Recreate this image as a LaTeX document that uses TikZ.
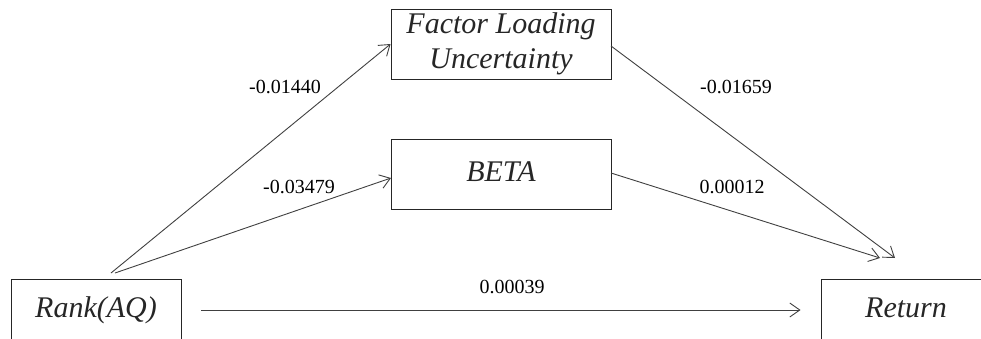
\documentclass[tikz,border=0pt]{standalone}
\usepackage{fontspec}
\setmainfont{Liberation Serif}
\usetikzlibrary{arrows.meta}
\begin{document}
\begin{tikzpicture}[x=1pt,y=-1pt,
  box/.style={draw=black!85, line width=0.9pt, inner sep=0pt, font=\fontsize{30}{35}\selectfont\itshape, text=black!85, text height=21pt, text depth=6pt},
  conn/.style={draw=black!75, line width=0.9pt, -{Straight Barb[length=10pt,width=14pt,line width=0.9pt]}},
  lbl/.style={font=\fontsize{20}{24}\selectfont, anchor=base, inner sep=0pt}]
\useasboundingbox (0,0) rectangle (981,338);
\node[box, minimum width=170pt, minimum height=62pt] (rank) at (96,310) {Rank(AQ)};
\node[box, minimum width=170pt, minimum height=62pt] (ret) at (906,310) {Return};
\node[box, minimum width=220pt, minimum height=70pt, align=center, text height=, text depth=] (flu) at (501,44) {Factor Loading\\Uncertainty};
\node[box, minimum width=220pt, minimum height=70pt] (beta) at (501,174) {BETA};
\coordinate (s1) at (111,273);
\coordinate (s2) at (115,273);
\coordinate (t1) at (895,258);
\coordinate (t2) at (880,258);
\coordinate (bw) at (391,178);
\coordinate (fe) at (611,46);
\coordinate (be) at (611,173);
\draw[conn] (s1) -- (flu.west);
\draw[conn] (s2) -- (bw);
\draw[conn] (fe) -- (t1);
\draw[conn] (be) -- (t2);
\draw[conn, shorten <=20pt, shorten >=20pt] (rank.east) -- (rank.east -| ret.west);
\node[lbl] (l1) at (285,93) {-0.01440};
\node[lbl] (l2) at (299,193) {-0.03479};
\node[lbl] (l3) at (736,93) {-0.01659};
\node[lbl] (l4) at (732,193) {0.00012};
\node[lbl] (l5) at (512,293) {0.00039};
\end{tikzpicture}
\end{document}
